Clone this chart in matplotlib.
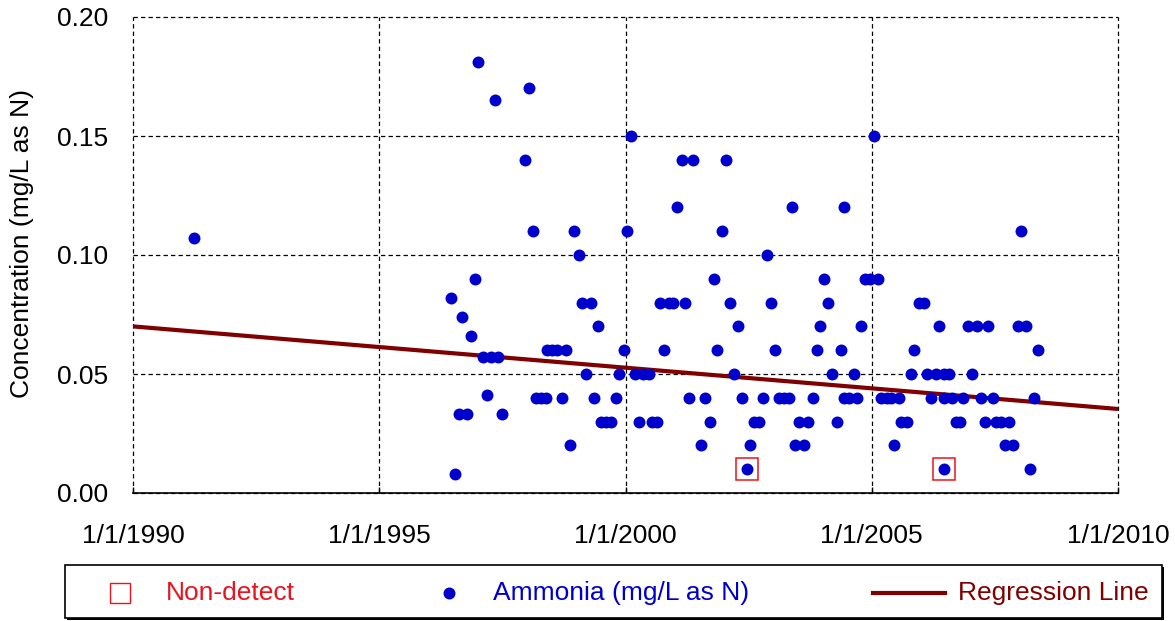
import matplotlib
matplotlib.use("Agg")
import matplotlib.pyplot as plt
from matplotlib.lines import Line2D
from matplotlib.patches import Rectangle

plt.rcParams['font.family'] = ['Liberation Sans', 'DejaVu Sans']

# sample dates (decimal years) and ammonia concentrations (mg/L as N)
years = [1991.24, 1996.45, 1996.54, 1996.62, 1996.69, 1996.78, 1996.86, 1996.94,
         1997.01, 1997.11, 1997.19, 1997.27, 1997.36, 1997.42, 1997.49, 1997.95,
         1998.05, 1998.13, 1998.19, 1998.29, 1998.39, 1998.41, 1998.51, 1998.61,
         1998.71, 1998.80, 1998.88, 1998.95, 1999.05, 1999.12, 1999.20, 1999.30,
         1999.37, 1999.45, 1999.51, 1999.60, 1999.70, 1999.80, 1999.87, 1999.96,
         2000.04, 2000.12, 2000.20, 2000.28, 2000.36, 2000.47, 2000.53, 2000.63,
         2000.71, 2000.79, 2000.88, 2000.97, 2001.05, 2001.14, 2001.21, 2001.29,
         2001.37, 2001.54, 2001.62, 2001.71, 2001.79, 2001.86, 2001.96, 2002.05,
         2002.13, 2002.21, 2002.28, 2002.37, 2002.46, 2002.53, 2002.61, 2002.72,
         2002.79, 2002.87, 2002.95, 2003.04, 2003.12, 2003.22, 2003.31, 2003.38,
         2003.45, 2003.52, 2003.63, 2003.71, 2003.80, 2003.88, 2003.95, 2004.04,
         2004.12, 2004.20, 2004.29, 2004.38, 2004.43, 2004.44, 2004.54, 2004.63,
         2004.70, 2004.79, 2004.87, 2004.97, 2005.04, 2005.13, 2005.19, 2005.30,
         2005.39, 2005.45, 2005.55, 2005.59, 2005.72, 2005.80, 2005.86, 2005.95,
         2006.06, 2006.12, 2006.20, 2006.30, 2006.37, 2006.46, 2006.47, 2006.47,
         2006.56, 2006.63, 2006.72, 2006.80, 2006.86, 2006.96, 2007.04, 2007.14,
         2007.22, 2007.29, 2007.37, 2007.46, 2007.53, 2007.63, 2007.71, 2007.79,
         2007.86, 2007.96, 2008.03, 2008.14, 2008.21, 2008.29, 2008.38]
ammonia = [0.107, 0.082, 0.008, 0.033, 0.074, 0.033, 0.066, 0.090,
           0.181, 0.057, 0.041, 0.057, 0.165, 0.057, 0.033, 0.14,
           0.17, 0.11, 0.04, 0.04, 0.04, 0.06, 0.06, 0.06,
           0.04, 0.06, 0.02, 0.11, 0.10, 0.08, 0.05, 0.08,
           0.04, 0.07, 0.03, 0.03, 0.03, 0.04, 0.05, 0.06,
           0.11, 0.15, 0.05, 0.03, 0.05, 0.05, 0.03, 0.03,
           0.08, 0.06, 0.08, 0.08, 0.12, 0.14, 0.08, 0.04,
           0.14, 0.02, 0.04, 0.03, 0.09, 0.06, 0.11, 0.14,
           0.08, 0.05, 0.07, 0.04, 0.01, 0.02, 0.03, 0.03,
           0.04, 0.10, 0.08, 0.06, 0.04, 0.04, 0.04, 0.12,
           0.02, 0.03, 0.02, 0.03, 0.04, 0.06, 0.07, 0.09,
           0.08, 0.05, 0.03, 0.06, 0.12, 0.04, 0.04, 0.05,
           0.04, 0.07, 0.09, 0.09, 0.15, 0.09, 0.04, 0.04,
           0.04, 0.02, 0.04, 0.03, 0.03, 0.05, 0.06, 0.08,
           0.08, 0.05, 0.04, 0.05, 0.07, 0.04, 0.05, 0.01,
           0.05, 0.04, 0.03, 0.03, 0.04, 0.07, 0.05, 0.07,
           0.04, 0.03, 0.07, 0.04, 0.03, 0.03, 0.02, 0.03,
           0.02, 0.07, 0.11, 0.07, 0.01, 0.04, 0.06]

nd_years = [2002.46, 2006.47]
nd_values = [0.01, 0.01]

reg_years = [1990, 2010]
reg_values = [0.0700, 0.0353]

xticks = [1990, 1995, 2000, 2005, 2010]
xlabels = ['1/1/%d' % y for y in xticks]
yticks = [0.00, 0.05, 0.10, 0.15, 0.20]

blue = '#0000CC'
red = '#E8141E'
darkred = '#800000'
fs = 19

fig = plt.figure(figsize=(11.75, 6.21), dpi=100)
ax = fig.add_axes([133/1175, 128/621, 985/1175, 476/621])

ax.plot(reg_years, reg_values, color=darkred, lw=3, zorder=3, solid_capstyle='butt')
ax.plot(years, ammonia, 'o', color=blue, ms=8.6, mew=0, zorder=4)
ax.plot(nd_years, nd_values, 's', mfc='none', mec=red, ms=15.5, mew=1.1, zorder=5)

ax.set_xlim(1990, 2010)
ax.set_ylim(0, 0.20)
ax.set_xticks(xticks)
ax.set_xticklabels(xlabels)
ax.set_yticks(yticks)
ax.set_yticklabels(['%.2f' % v for v in yticks])

ax.grid(True, color='black', ls=(0, (3.5, 2.5)), lw=0.9)
for g in ax.get_xgridlines() + ax.get_ygridlines():
    g.set_clip_on(False)
for s in ['top', 'right', 'left']:
    ax.spines[s].set_visible(False)
ax.spines['bottom'].set_linewidth(1.2)

ax.tick_params(axis='x', direction='in', length=4, width=1, pad=22, labelsize=fs)
ax.tick_params(axis='y', length=0, pad=18, labelsize=fs)
ax.set_ylabel('Concentration (mg/L as N)', fontsize=fs)
ax.yaxis.set_label_coords(-0.1005, 0.525)

# legend box with a small shadow
x0, x1 = 65/1175, 1162/1175
yb, yt = 3/621, 56/621
fig.add_artist(Rectangle((x0 + 0.002, yb - 0.004), x1 - x0, yt - yb,
                         transform=fig.transFigure, fc='black', ec='none'))
fig.add_artist(Rectangle((x0, yb), x1 - x0, yt - yb,
                         transform=fig.transFigure, fc='white', ec='black', lw=1.2))
ly = 1 - 593/621
fig.add_artist(Line2D([120/1175], [ly], marker='s', mfc='none', mec=red,
                      ms=15, mew=1.0, transform=fig.transFigure))
fig.text(166/1175, ly, 'Non-detect', color=red, fontsize=fs, va='center')
fig.add_artist(Line2D([449/1175], [ly], marker='o', color=blue, ms=8.6, mew=0,
                      transform=fig.transFigure))
fig.text(493/1175, ly, 'Ammonia (mg/L as N)', color=blue, fontsize=fs, va='center')
fig.add_artist(Line2D([873/1175, 945/1175], [ly, ly], color=darkred, lw=3,
                      transform=fig.transFigure))
fig.text(958/1175, ly, 'Regression Line', color=darkred, fontsize=fs, va='center')

fig.savefig('out.png', dpi=100)
